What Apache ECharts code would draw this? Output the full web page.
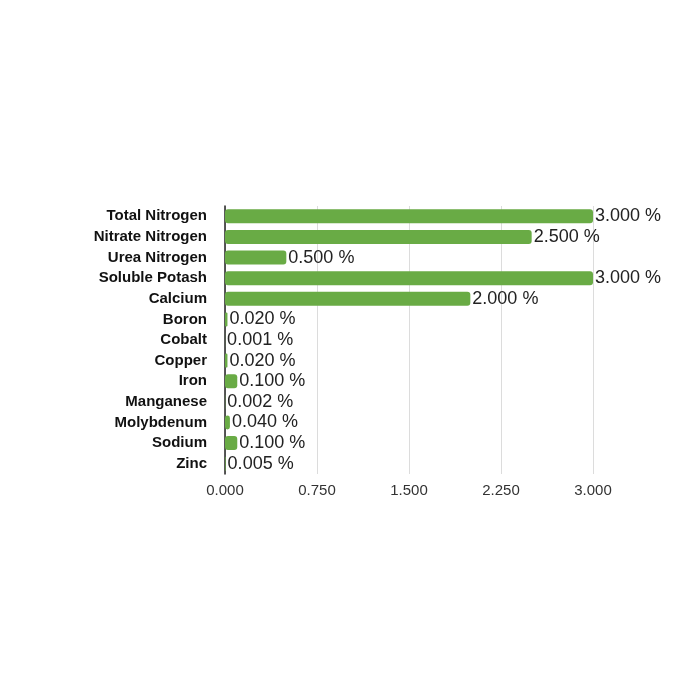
<!DOCTYPE html>
<html><head><meta charset="utf-8">
<script src="https://cdn.jsdelivr.net/npm/echarts@6/dist/echarts.min.js"></script>
<style>html,body{margin:0;padding:0;background:#fff}#c{width:700px;height:700px}</style>
</head><body><div id="c"></div>
<script>
const categories = ["Total Nitrogen","Nitrate Nitrogen","Urea Nitrogen","Soluble Potash","Calcium","Boron","Cobalt","Copper","Iron","Manganese","Molybdenum","Sodium","Zinc"];
const values = [3.0, 2.5, 0.5, 3.0, 2.0, 0.02, 0.001, 0.02, 0.1, 0.002, 0.04, 0.1, 0.005];
const xTicks = [0, 0.75, 1.5, 2.25, 3.0];

const chart = echarts.init(document.getElementById('c'), null, {renderer:'canvas'});
chart.setOption({
  animation:false,
  backgroundColor:'#fff',
  grid:{left:225, right:107, top:206, height:268, containLabel:false},
  xAxis:{type:'value', min:xTicks[0], max:xTicks[xTicks.length-1], interval:0.75,
    axisLine:{show:false}, axisTick:{show:false},
    splitLine:{show:true, lineStyle:{color:'#dcdcdc', width:1}},
    axisLabel:{formatter:v=>v.toFixed(3), color:'#333', fontSize:15, fontFamily:'Liberation Sans, Arial', margin:9}},
  yAxis:{type:'category', data:categories, inverse:true,
    axisLine:{show:true, lineStyle:{color:'#222', width:1.5}}, axisTick:{show:false},
    axisLabel:{color:'#111', fontWeight:'bold', fontSize:15, fontFamily:'Liberation Sans, Arial', margin:18}},
  series:[{type:'bar', data:values, barWidth:14,
    itemStyle:{color:'#69ab45', borderRadius:3},
    label:{show:true, position:'right', distance:2, formatter:p=>p.value.toFixed(3)+' %', color:'#222', fontSize:18, fontFamily:'Liberation Sans, Arial'}}]
});
</script></body></html>
